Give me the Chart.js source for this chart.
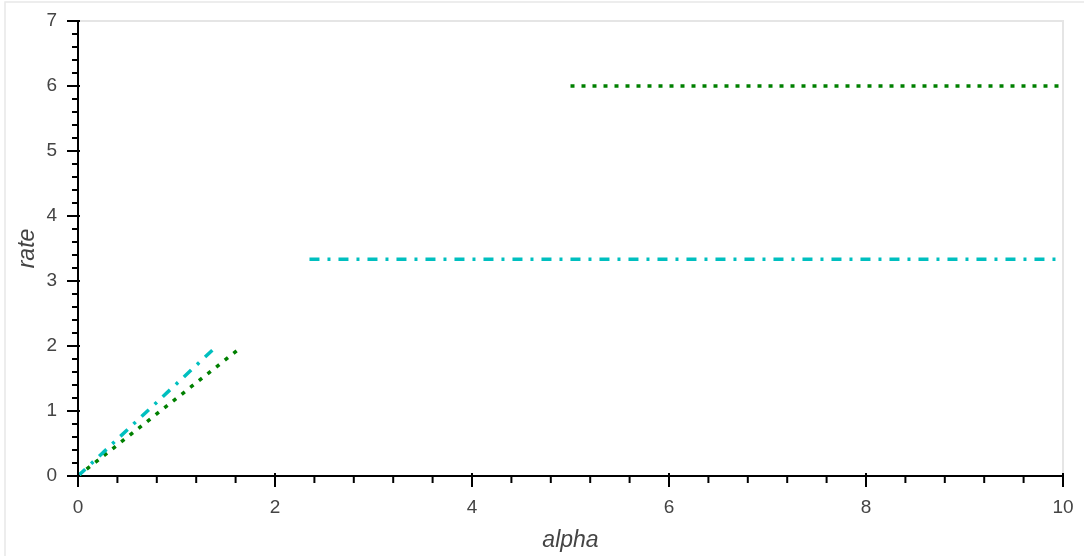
<!DOCTYPE html>
<html>
<head>
<meta charset="utf-8">
<script src="https://cdn.jsdelivr.net/npm/chart.js@4/dist/chart.umd.min.js"></script>
<style>
  html, body { margin: 0; padding: 0; background: #fff; }
  #wrap { width: 1084px; height: 556px; position: relative; }
</style>
</head>
<body>
<div id="wrap"><canvas id="c" width="1084" height="556"></canvas></div>
<script>
// ---- data ----
const cyanRiseX   = [0, 1.41];
const cyanRiseY   = [0, 2.0];
const cyanFlatX   = [2.35, 10];
const cyanFlatY   = [3.333, 3.333];
const greenRiseX  = [0, 1.64];
const greenRiseY  = [0, 1.96];
const greenFlatX  = [5.0, 10];
const greenFlatY  = [6, 6];
const xTickValues = [0, 2, 4, 6, 8, 10];
const yTickValues = [0, 1, 2, 3, 4, 5, 6, 7];
const xMinorPerMajor = 5;
const yMinorPerMajor = 5;

function pts(xs, ys) { return xs.map((x, i) => ({x: x, y: ys[i]})); }
function joinSegments(a, b) {
  const gapX = (a[a.length - 1].x + b[0].x) / 2;
  return a.concat([{x: gapX, y: null}], b);
}

const cyanData  = joinSegments(pts(cyanRiseX, cyanRiseY), pts(cyanFlatX, cyanFlatY));
const greenData = joinSegments(pts(greenRiseX, greenRiseY), pts(greenFlatX, greenFlatY));

const AXIS_COLOR = '#000';
const LABEL_COLOR = '#444';
const FONT = '"Liberation Sans", Arial, Helvetica, sans-serif';

function zeroPad(scale) {
  scale.paddingTop = 0; scale.paddingBottom = 0;
  scale.paddingLeft = 0; scale.paddingRight = 0;
}

const framePlugin = {
  id: 'frame',
  beforeDraw(chart) {
    const ctx = chart.ctx;
    const a = chart.chartArea;
    ctx.save();
    ctx.strokeStyle = '#e8e8e8';
    ctx.lineWidth = 1.5;
    ctx.beginPath();
    ctx.moveTo(5, chart.height);
    ctx.lineTo(5, 2);
    ctx.lineTo(chart.width, 2);
    ctx.stroke();
    ctx.strokeStyle = '#e5e5e5';
    ctx.lineWidth = 2;
    ctx.strokeRect(a.left, a.top, a.right - a.left, a.bottom - a.top);
    ctx.restore();
  },
  afterDraw(chart) {
    const ctx = chart.ctx;
    const xs = chart.scales.x, ys = chart.scales.y;
    const a = chart.chartArea;
    ctx.save();
    ctx.strokeStyle = AXIS_COLOR;
    ctx.lineCap = 'butt';
    ctx.lineWidth = 2;
    for (let i = 0; i < xTickValues.length; i++) {
      const v = xTickValues[i];
      const px = xs.getPixelForValue(v);
      ctx.beginPath();
      ctx.moveTo(px, a.bottom - 3);
      ctx.lineTo(px, a.bottom + 11);
      ctx.stroke();
      if (i < xTickValues.length - 1) {
        const step = (xTickValues[i + 1] - v) / xMinorPerMajor;
        for (let k = 1; k < xMinorPerMajor; k++) {
          const mp = xs.getPixelForValue(v + k * step);
          ctx.beginPath();
          ctx.moveTo(mp, a.bottom);
          ctx.lineTo(mp, a.bottom + 7);
          ctx.stroke();
        }
      }
    }
    for (let i = 0; i < yTickValues.length; i++) {
      const v = yTickValues[i];
      const py = ys.getPixelForValue(v);
      ctx.beginPath();
      ctx.moveTo(a.left + 2, py);
      ctx.lineTo(a.left - 11, py);
      ctx.stroke();
      if (i < yTickValues.length - 1) {
        const step = (yTickValues[i + 1] - v) / yMinorPerMajor;
        for (let k = 1; k < yMinorPerMajor; k++) {
          const mp = ys.getPixelForValue(v + k * step);
          ctx.beginPath();
          ctx.moveTo(a.left, mp);
          ctx.lineTo(a.left - 6, mp);
          ctx.stroke();
        }
      }
    }
    ctx.restore();
  }
};

new Chart(document.getElementById('c'), {
  type: 'line',
  data: {
    datasets: [
      {
        label: 'cyan',
        data: cyanData,
        borderColor: '#00BFBF',
        borderWidth: 3.5,
        borderDash: [10, 8, 3, 8],
        pointRadius: 0,
        spanGaps: false,
        tension: 0,
        fill: false
      },
      {
        label: 'green',
        data: greenData,
        borderColor: '#008000',
        borderWidth: 3.5,
        borderDash: [4, 7],
        pointRadius: 0,
        spanGaps: false,
        tension: 0,
        fill: false
      }
    ]
  },
  options: {
    responsive: false,
    animation: false,
    devicePixelRatio: 1,
    layout: { padding: { left: 0, right: 21, top: 21, bottom: 0 } },
    plugins: { legend: { display: false }, tooltip: { enabled: false } },
    scales: {
      x: {
        type: 'linear',
        min: 0, max: 10,
        afterBuildTicks(scale) { scale.ticks = xTickValues.map(v => ({value: v})); },
        afterFit(scale) { scale.height = 80; zeroPad(scale); },
        grid: { display: true, drawOnChartArea: false, drawTicks: false },
        border: { display: true, color: AXIS_COLOR, width: 2 },
        ticks: {
          padding: 20,
          color: LABEL_COLOR,
          font: { family: FONT, size: 19 },
          maxRotation: 0
        },
        title: {
          display: true,
          text: 'alpha',
          color: LABEL_COLOR,
          font: { family: FONT, size: 23, style: 'italic' },
          padding: { top: 0, bottom: 2 }
        }
      },
      y: {
        type: 'linear',
        min: 0, max: 7,
        afterBuildTicks(scale) { scale.ticks = yTickValues.map(v => ({value: v})); },
        afterFit(scale) { scale.width = 78; zeroPad(scale); },
        grid: { display: true, drawOnChartArea: false, drawTicks: false },
        border: { display: true, color: AXIS_COLOR, width: 2 },
        ticks: {
          padding: 21,
          color: LABEL_COLOR,
          font: { family: FONT, size: 19 }
        },
        title: {
          display: true,
          text: 'rate',
          color: LABEL_COLOR,
          font: { family: FONT, size: 23, style: 'italic' },
          padding: { top: 14, bottom: 0 }
        }
      }
    }
  },
  plugins: [framePlugin]
});
</script>
</body>
</html>
